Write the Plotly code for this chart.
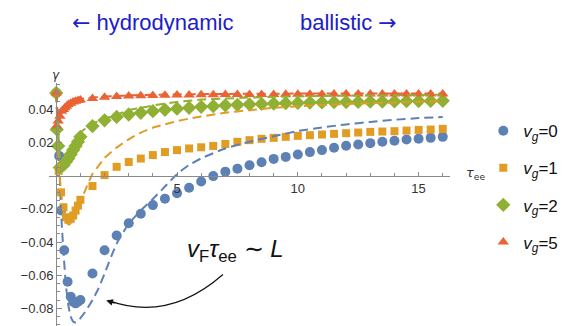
import plotly.graph_objects as go

# ---------------- data ----------------
tau_coarse = [1.5, 2.0, 2.5, 3.0, 3.5, 4.0, 4.5, 5.0, 5.5, 6.0, 6.5, 7.0, 7.5, 8.0,
              8.5, 9.0, 9.5, 10.0, 10.5, 11.0, 11.5, 12.0, 12.5, 13.0, 13.5, 14.0,
              14.5, 15.0, 15.5, 16.0]

tau_fine_v0 = [0, 0.12, 0.2, 0.33, 0.47, 0.6, 0.7, 0.8, 0.9, 1.0]
gamma_fine_v0 = [0.050, 0.012, -0.021, -0.045, -0.064, -0.073, -0.076, -0.077, -0.076, -0.075]
gamma_coarse_v0 = [-0.059, -0.045, -0.036, -0.0287, -0.0229, -0.0177, -0.0138, -0.0105,
                   -0.0072, -0.0035, -0.0002, 0.0025, 0.0043, 0.0064, 0.0082, 0.0102,
                   0.0114, 0.0128, 0.0143, 0.0155, 0.0169, 0.0181, 0.0189, 0.0197,
                   0.0205, 0.0211, 0.0219, 0.0223, 0.0229, 0.0235]

tau_fine_v1 = [0, 0.1, 0.2, 0.3, 0.4, 0.5, 0.6, 0.7, 0.8, 0.9, 1.0]
gamma_fine_v1 = [0.050, 0.003, -0.010, -0.019, -0.025, -0.0265, -0.026, -0.024, -0.021, -0.018, -0.0145]
gamma_coarse_v1 = [-0.0062, 0.0004, 0.0054, 0.0083, 0.0104, 0.0125, 0.0143, 0.0155,
                   0.0165, 0.0172, 0.0180, 0.0192, 0.0205, 0.0215, 0.0223, 0.0229,
                   0.0235, 0.0241, 0.0245, 0.0249, 0.0253, 0.0257, 0.0261, 0.0265,
                   0.0267, 0.0269, 0.0273, 0.0277, 0.0279, 0.0283]

tau_fine_v2 = [0, 0.02, 0.08, 0.15, 0.3, 0.4, 0.5, 0.6, 0.7, 0.8, 0.9, 1.0]
gamma_fine_v2 = [0.050, 0.028, 0.018, 0.005, 0.0064, 0.0085, 0.0105, 0.013, 0.0155, 0.018, 0.0205, 0.0235]
gamma_coarse_v2 = [0.030, 0.0335, 0.0355, 0.037, 0.038, 0.039, 0.0398, 0.0405, 0.041,
                   0.0416, 0.042, 0.0425, 0.0428, 0.0431, 0.0434, 0.0436, 0.0438,
                   0.0440, 0.0442, 0.0443, 0.0444, 0.0445, 0.0446, 0.0447, 0.0448,
                   0.0449, 0.0450, 0.0451, 0.0452, 0.0453]

tau_fine_v5 = [0, 0.02, 0.08, 0.15, 0.22, 0.3, 0.36, 0.43, 0.5, 0.6, 0.7, 0.8, 0.9, 1.0]
gamma_fine_v5 = [0.050, 0.030, 0.033, 0.036, 0.039, 0.040, 0.041, 0.042, 0.043, 0.0438,
                 0.0446, 0.045, 0.0454, 0.0457]
gamma_coarse_v5 = [0.0466, 0.0474, 0.0478, 0.0481, 0.0483, 0.0485, 0.0486, 0.0487,
                   0.0488, 0.0489, 0.0489, 0.0490, 0.0490, 0.0491, 0.0491, 0.0491,
                   0.0492, 0.0492, 0.0492, 0.0492, 0.0493, 0.0493, 0.0493, 0.0493,
                   0.0493, 0.0494, 0.0494, 0.0494, 0.0494, 0.0494]

# theory curves (dashed)
tau_theory = [0, 0.1, 0.2, 0.3, 0.4, 0.5, 0.6, 0.7, 0.8, 0.9, 1.0, 1.25, 1.5, 1.75, 2.0,
              2.5, 3.0, 3.5, 4.0, 4.5, 5.0, 5.5, 6.0, 7.0, 8.0, 9.0, 10.0, 11.0, 12.0,
              13.0, 14.0, 15.0, 16.0]
theory_v0 = [0.050, 0.020, -0.022, -0.046, -0.066, -0.078, -0.085, -0.088, -0.0886, -0.088,
             -0.086, -0.081, -0.075, -0.068, -0.059, -0.041, -0.029, -0.021, -0.014,
             -0.0065, 0.001, 0.0065, 0.0105, 0.0165, 0.0205, 0.0238, 0.027, 0.0292,
             0.031, 0.0325, 0.0338, 0.0348, 0.0355]
theory_v1 = [0.050, 0.010, -0.010, -0.021, -0.027, -0.0293, -0.029, -0.026, -0.022, -0.019,
             -0.016, -0.007, 0.001, 0.006, 0.0108, 0.017, 0.022, 0.026, 0.029, 0.031,
             0.033, 0.0345, 0.0358, 0.038, 0.0396, 0.041, 0.042, 0.0427, 0.0433,
             0.0438, 0.0442, 0.0446, 0.045]
theory_v2 = [0.050, 0.020, 0.006, 0.005, 0.008, 0.0115, 0.015, 0.018, 0.021, 0.0235,
             0.026, 0.029, 0.0315, 0.033, 0.0345, 0.037, 0.0395, 0.041, 0.0424, 0.0435,
             0.0445, 0.0453, 0.046, 0.0466, 0.0472, 0.0476, 0.0479, 0.0482, 0.0484,
             0.0486, 0.0487, 0.0488, 0.0489]
theory_v5 = [0.050, 0.033, 0.037, 0.040, 0.042, 0.0435, 0.0445, 0.0452, 0.0457, 0.046,
             0.0463, 0.0468, 0.0472, 0.0475, 0.0478, 0.0482, 0.0485, 0.0487, 0.0489,
             0.049, 0.0491, 0.0492, 0.0493, 0.0494, 0.0495, 0.0495, 0.0496, 0.0496,
             0.0496, 0.0497, 0.0497, 0.0497, 0.0497]

legend_labels = ["<i>v</i><sub><i>g</i></sub>=0", "<i>v</i><sub><i>g</i></sub>=1",
                 "<i>v</i><sub><i>g</i></sub>=2", "<i>v</i><sub><i>g</i></sub>=5"]

# ---------------- style ----------------
colors = ["#5E81B5", "#E19C24", "#8FB032", "#EB6235"]
symbols = ["circle", "square", "diamond", "triangle-up"]
msizes = [10, 8, 11, 10]

X_RANGE = [-0.3, 16.3]
Y_RANGE = [-0.0955, 0.056]

fig = go.Figure()

series = [
    (tau_fine_v0 + tau_coarse, gamma_fine_v0 + gamma_coarse_v0, theory_v0),
    (tau_fine_v1 + tau_coarse, gamma_fine_v1 + gamma_coarse_v1, theory_v1),
    (tau_fine_v2 + tau_coarse, gamma_fine_v2 + gamma_coarse_v2, theory_v2),
    (tau_fine_v5 + tau_coarse, gamma_fine_v5 + gamma_coarse_v5, theory_v5),
]

for i, (xs, ys, th) in enumerate(series):
    fig.add_trace(go.Scatter(
        x=xs, y=ys, mode="markers", name=legend_labels[i],
        legendgroup=f"g{i}",
        marker=dict(symbol=symbols[i], size=msizes[i], color=colors[i], line=dict(width=0)),
    ))

for i, (xs, ys, th) in enumerate(series):
    fig.add_trace(go.Scatter(
        x=tau_theory, y=th, mode="lines", showlegend=False,
        line=dict(color=colors[i], width=2, dash="9px,5px", shape="spline", smoothing=0.6),
    ))

x_pos = (0 - Y_RANGE[0]) / (Y_RANGE[1] - Y_RANGE[0])
y_pos = (0 - X_RANGE[0]) / (X_RANGE[1] - X_RANGE[0])

axis_color = "#8a8a8a"
tick_font = dict(family="Liberation Sans, Arial, sans-serif", size=13, color="#333333")

fig.update_layout(
    width=568, height=326,
    margin=dict(l=41, r=126, t=75, b=0),
    paper_bgcolor="white", plot_bgcolor="white",
    showlegend=True,
    legend=dict(
        x=1.083, y=0.88, xanchor="left", yanchor="top",
        font=dict(family="Liberation Sans, Arial, sans-serif", size=17, color="#111111"),
        tracegroupgap=12, bgcolor="rgba(0,0,0,0)",
    ),
    xaxis=dict(
        range=X_RANGE, anchor="free", position=x_pos, side="bottom",
        showline=True, linecolor=axis_color, linewidth=1.3,
        showgrid=False, zeroline=False,
        tickmode="array", tickvals=[5, 10, 15], ticktext=["5", "10", "15"],
        ticks="inside", ticklen=4, tickcolor=axis_color, tickwidth=1,
        tickfont=tick_font,
        minor=dict(tickmode="linear", tick0=0, dtick=1, ticks="inside", ticklen=3,
                   tickcolor=axis_color, showgrid=False),
    ),
    yaxis=dict(
        range=Y_RANGE, anchor="free", position=y_pos, side="left",
        showline=True, linecolor=axis_color, linewidth=1.3,
        showgrid=False, zeroline=False,
        tickmode="array", tickvals=[-0.08, -0.06, -0.04, -0.02, 0.02, 0.04],
        ticktext=["−0.08", "−0.06", "−0.04", "−0.02", "0.02", "0.04"],
        ticks="inside", ticklen=5, tickcolor=axis_color, tickwidth=1,
        tickfont=tick_font,
        minor=dict(tickmode="linear", tick0=0, dtick=0.005, ticks="inside", ticklen=3,
                   tickcolor=axis_color, showgrid=False),
    ),
)

title_color = "#2020C8"
title_font = dict(family="Liberation Sans, Arial, sans-serif", size=22, color=title_color)
arrow_span = '<span style="font-family:DejaVu Sans">{}</span>'
fig.add_annotation(text=arrow_span.format("←") + " hydrodynamic", xref="paper", yref="paper",
                   x=(145 - 41) / 401, y=1, yshift=61, xanchor="center", yanchor="middle",
                   showarrow=False, font=title_font)
fig.add_annotation(text="ballistic " + arrow_span.format("→"), xref="paper", yref="paper",
                   x=(340 - 41) / 401, y=1, yshift=61, xanchor="center", yanchor="middle",
                   showarrow=False, font=title_font)

# axis labels
fig.add_annotation(text="<i>γ</i>", xref="x", yref="paper", x=0, y=1, yshift=8,
                   xanchor="center", yanchor="middle", showarrow=False,
                   font=dict(family="DejaVu Sans, sans-serif", size=12, color="#333333"))
fig.add_annotation(text="<i>τ</i><sub>ee</sub>", xref="paper", yref="y", x=1, y=0,
                   xshift=14, yshift=2, xanchor="left", yanchor="middle", showarrow=False,
                   font=dict(family="DejaVu Sans, sans-serif", size=13, color="#333333"))

# annotation text and curved arrow
fig.add_annotation(text="<i>v</i><sub>F</sub><i>τ</i><sub>ee</sub> ∼ <i>L</i>",
                   xref="x", yref="y", x=7.4, y=-0.045, xanchor="center", yanchor="middle",
                   showarrow=False,
                   font=dict(family="Liberation Sans, Arial, sans-serif", size=24, color="#111111"))
fig.add_shape(type="path", xref="x", yref="y",
              path="M 6.90,-0.0596 Q 4.63,-0.0886 2.15,-0.0752",
              line=dict(color="#111111", width=1.2))
fig.add_annotation(text="", xref="x", yref="y", x=2.07, y=-0.0753, ax=10, ay=3,
                   axref="pixel", ayref="pixel", showarrow=True, arrowhead=2,
                   arrowsize=1.1, arrowwidth=1.2, arrowcolor="#111111")

fig.write_html("out.html")
